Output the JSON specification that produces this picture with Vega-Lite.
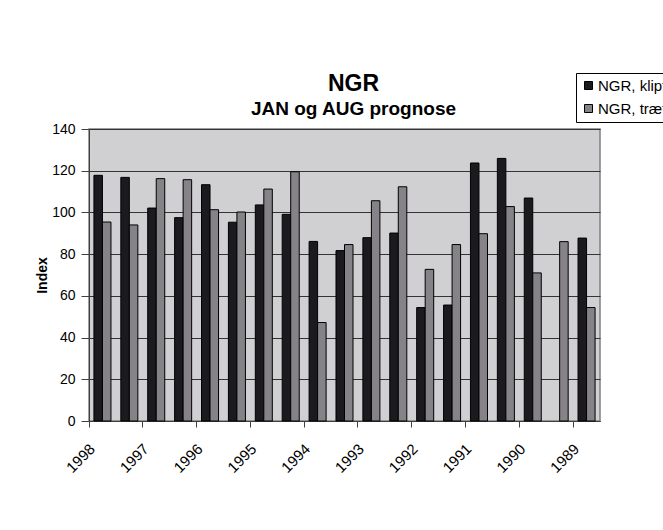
{
  "$schema": "https://vega.github.io/schema/vega-lite/v6.json",
  "width": 511,
  "height": 292,
  "autosize": {"type": "none"},
  "padding": {"left": 89, "top": 129, "right": 63, "bottom": 109},
  "background": "white",
  "config": {
    "font": "Liberation Sans",
    "view": {"fill": "#d0d0d2", "stroke": "#808080", "strokeWidth": 1.5}
  },
  "title": {
    "text": "NGR",
    "subtitle": "JAN og AUG prognose",
    "anchor": "middle",
    "frame": "group",
    "fontSize": 23,
    "fontWeight": "bold",
    "color": "#000000",
    "subtitleFontSize": 19,
    "subtitleFontWeight": "bold",
    "subtitleColor": "#000000",
    "subtitlePadding": 4,
    "offset": 19,
    "dx": 9,
    "dy": 65
  },
  "data": {
    "values": [
      {"period": "1998-1", "series": "NGR, klipfisk", "value": 117.8},
      {"period": "1998-1", "series": "NGR, træfisk", "value": 95.4},
      {"period": "1998-2", "series": "NGR, klipfisk", "value": 116.8},
      {"period": "1998-2", "series": "NGR, træfisk", "value": 94.0},
      {"period": "1997-1", "series": "NGR, klipfisk", "value": 102.1},
      {"period": "1997-1", "series": "NGR, træfisk", "value": 116.2},
      {"period": "1997-2", "series": "NGR, klipfisk", "value": 97.5},
      {"period": "1997-2", "series": "NGR, træfisk", "value": 115.7},
      {"period": "1996-1", "series": "NGR, klipfisk", "value": 113.3},
      {"period": "1996-1", "series": "NGR, træfisk", "value": 101.3},
      {"period": "1996-2", "series": "NGR, klipfisk", "value": 95.3},
      {"period": "1996-2", "series": "NGR, træfisk", "value": 100.2},
      {"period": "1995-1", "series": "NGR, klipfisk", "value": 103.6},
      {"period": "1995-1", "series": "NGR, træfisk", "value": 111.2},
      {"period": "1995-2", "series": "NGR, klipfisk", "value": 99.1},
      {"period": "1995-2", "series": "NGR, træfisk", "value": 119.5},
      {"period": "1994-1", "series": "NGR, klipfisk", "value": 86.1},
      {"period": "1994-1", "series": "NGR, træfisk", "value": 47.2},
      {"period": "1994-2", "series": "NGR, klipfisk", "value": 81.7},
      {"period": "1994-2", "series": "NGR, træfisk", "value": 84.6},
      {"period": "1993-1", "series": "NGR, klipfisk", "value": 87.9},
      {"period": "1993-1", "series": "NGR, træfisk", "value": 105.6},
      {"period": "1993-2", "series": "NGR, klipfisk", "value": 90.1},
      {"period": "1993-2", "series": "NGR, træfisk", "value": 112.3},
      {"period": "1992-1", "series": "NGR, klipfisk", "value": 54.4},
      {"period": "1992-1", "series": "NGR, træfisk", "value": 72.7},
      {"period": "1992-2", "series": "NGR, klipfisk", "value": 55.6},
      {"period": "1992-2", "series": "NGR, træfisk", "value": 84.6},
      {"period": "1991-1", "series": "NGR, klipfisk", "value": 123.7},
      {"period": "1991-1", "series": "NGR, træfisk", "value": 89.8},
      {"period": "1991-2", "series": "NGR, klipfisk", "value": 125.9},
      {"period": "1991-2", "series": "NGR, træfisk", "value": 102.8},
      {"period": "1990-1", "series": "NGR, klipfisk", "value": 106.9},
      {"period": "1990-1", "series": "NGR, træfisk", "value": 71.0},
      {"period": "1990-2", "series": "NGR, træfisk", "value": 86.0},
      {"period": "1989-1", "series": "NGR, klipfisk", "value": 87.7},
      {"period": "1989-1", "series": "NGR, træfisk", "value": 54.4}
    ]
  },
  "mark": {"type": "bar", "stroke": "#000000", "strokeWidth": 1},
  "encoding": {
    "x": {
      "field": "period",
      "type": "nominal",
      "sort": null,
      "scale": {"paddingInner": 0, "paddingOuter": 0},
      "axis": {
        "title": null,
        "values": ["1998-1", "1997-1", "1996-1", "1995-1", "1994-1", "1993-1", "1992-1", "1991-1", "1990-1", "1989-1"],
        "bandPosition": 0,
        "labelExpr": "slice(datum.value, 0, 4)",
        "labelAngle": -45,
        "labelAlign": "right",
        "labelBaseline": "middle",
        "labelFontSize": 15,
        "labelColor": "#000000",
        "labelPadding": 19,
        "labelOffset": -10,
        "tickColor": "#404040",
        "tickSize": 6,
        "domainColor": "#404040",
        "grid": false
      }
    },
    "xOffset": {
      "field": "series",
      "type": "nominal",
      "scale": {"paddingOuter": 0.58, "paddingInner": 0}
    },
    "y": {
      "field": "value",
      "type": "quantitative",
      "scale": {"domain": [0, 140], "nice": false},
      "axis": {
        "title": "Index",
        "titleFontSize": 14,
        "titleFontWeight": "bold",
        "titleColor": "#000000",
        "titlePadding": 2,
        "values": [0, 20, 40, 60, 80, 100, 120, 140],
        "labelFontSize": 14,
        "labelColor": "#000000",
        "labelPadding": 6,
        "tickColor": "#404040",
        "tickSize": 8,
        "domainColor": "#404040",
        "gridColor": "#333333",
        "gridWidth": 1
      }
    },
    "color": {
      "field": "series",
      "type": "nominal",
      "scale": {"domain": ["NGR, klipfisk", "NGR, træfisk"], "range": ["#1b1b1f", "#858387"]},
      "legend": {
        "title": null,
        "orient": "none",
        "legendX": 487,
        "legendY": -56,
        "strokeColor": "#000000",
        "fillColor": "#ffffff",
        "padding": 5,
        "symbolType": "square",
        "symbolSize": 64,
        "symbolStrokeColor": "#000000",
        "symbolStrokeWidth": 1,
        "labelFontSize": 15,
        "labelColor": "#000000",
        "labelOffset": 2,
        "rowPadding": 7
      }
    }
  }
}
